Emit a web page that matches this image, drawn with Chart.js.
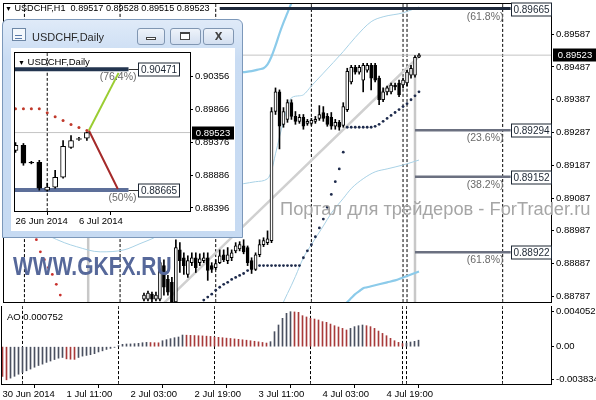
<!DOCTYPE html>
<html lang="ru">
<head>
<meta charset="UTF-8">
<title>USDCHF,H1</title>
<script src="https://cdn.jsdelivr.net/npm/chart.js@4.4.1/dist/chart.umd.min.js"></script>
<style>
  body { margin: 0; width: 596px; height: 400px; overflow: hidden; position: relative; background: #fff;
         font-family: 'Liberation Sans', Arial, sans-serif; }
  canvas { position: absolute; z-index: 1; }
  .txt { position: absolute; white-space: nowrap; font-size: 9.5px; line-height: 11px; color: #000; z-index: 2; }
  #hdr { font-size: 9.1px; }
  #wm1 { left: 280px; top: 199.5px; font-size: 18.3px; line-height: 18.3px; color: #a6a6a6; }
  #wm2 { left: 13px; top: 254px; font-size: 25px; line-height: 25px; font-weight: bold; color: #56689a;
         transform: scaleX(0.84); transform-origin: 0 0; }
  #win { position: absolute; left: 2px; top: 19px; width: 239px; height: 217px; z-index: 3;
         border: 1px solid #7c98ba; border-radius: 6px 6px 0 0;
         background: linear-gradient(#dfeaf8, #c9dcf3 40px, #c6daf2); }
  .ico { position: absolute; left: 9px; top: 8px; width: 12px; height: 11px; border: 1px solid #6d87a6; background: #f4f8fc; }
  .ico:after { content: ''; position: absolute; left: 2px; top: 6px; width: 7px; height: 2px; border-top: 1px solid #5a7aa8; border-bottom: 1px solid #5a7aa8; }
  .wtitle { position: absolute; left: 29px; top: 10.7px; font-size: 11px; line-height: 13px; color: #2a2a2a; }
  .btn { position: absolute; top: 8px; width: 26px; height: 15px; border: 1px solid #8096b2; border-radius: 3px;
         background: linear-gradient(#eef3fa, #d3dff0); }
  .client { position: absolute; left: 8px; top: 28px; width: 224px; height: 183px; background: #fff; }
  #daily { z-index: 4; }
  #dhdr { z-index: 5; }
</style>
</head>
<body>
<canvas id="main" width="596" height="306" style="left:0;top:0"></canvas>
<canvas id="ao" width="596" height="94" style="left:0;top:306px"></canvas>
<div class="txt" id="hdr" style="left:5px;top:3.4px"><span style="font-size:7px">&#9660;</span> USDCHF,H1 &nbsp;0.89517 0.89528 0.89515 0.89523</div>
<div class="txt" style="left:7px;top:310.7px">AO 0.000752</div>
<div class="txt" id="wm1">Портал для трейдеров - ForTrader.ru</div>
<div class="txt" id="wm2">WWW.GKFX.RU</div>
<div id="win">
  <div class="ico"></div>
  <div class="wtitle">USDCHF,Daily</div>
  <div class="btn" style="left:134px"><div style="position:absolute;left:8px;top:8px;width:8px;height:1px;border:1px solid #444;background:#fff"></div></div>
  <div class="btn" style="left:167px;width:29px"><div style="position:absolute;left:9px;top:3px;width:8px;height:5px;border:1px solid #444;border-top-width:2px;background:#fff"></div></div>
  <div class="btn" style="left:200px;width:29px;text-align:center;font:bold 10px/15px 'DejaVu Sans',sans-serif;color:#444">X</div>
  <div class="client"></div>
</div>
<canvas id="daily" width="224" height="182" style="left:11px;top:49px"></canvas>
<div class="txt" id="dhdr" style="left:18px;top:55.7px"><span style="font-size:7px">&#9660;</span> USDCHF,Daily</div>

<script>
// ---- H1 chart data (bar index 0 = 30 Jun 19:00) ----
const firstBar = 35;
const opens  = [0.88779,0.88779,0.88794,0.88779,0.88779,0.88881,0.88839,0.88830,0.88770,0.88929,
                0.88905,0.88854,0.88890,0.88905,0.88890,0.88896,0.88905,0.88881,0.88875,0.88890,
                0.88914,0.88896,0.88905,0.88926,0.88932,0.88941,0.88936,0.88896,0.88869,0.88914,
                0.88945,0.88951,0.88957,0.89351,0.89411,0.89312,0.89327,0.89378,0.89336,0.89321,
                0.89333,0.89315,0.89315,0.89321,0.89330,0.89348,0.89336,0.89333,0.89306,0.89318,
                0.89309,0.89357,0.89441,0.89486,0.89471,0.89447,0.89477,0.89492,0.89492,0.89453,
                0.89387,0.89411,0.89411,0.89432,0.89438,0.89432,0.89438,0.89462,0.89462,0.89517];
const highs  = [0.88797,0.88803,0.88800,0.88800,0.88896,0.88899,0.88851,0.88845,0.88960,0.88951,
                0.88920,0.88911,0.88920,0.88920,0.88917,0.88920,0.88920,0.88890,0.88899,0.88929,
                0.88929,0.88936,0.88929,0.88951,0.88954,0.88960,0.88941,0.88905,0.88920,0.88960,
                0.88966,0.88987,0.89363,0.89423,0.89417,0.89363,0.89387,0.89387,0.89351,0.89342,
                0.89342,0.89327,0.89330,0.89336,0.89369,0.89366,0.89345,0.89348,0.89327,0.89324,
                0.89378,0.89483,0.89492,0.89492,0.89492,0.89498,0.89498,0.89498,0.89498,0.89459,
                0.89423,0.89429,0.89438,0.89438,0.89447,0.89453,0.89477,0.89492,0.89522,0.89528];
const lows   = [0.88773,0.88773,0.88770,0.88773,0.88773,0.88791,0.88791,0.88764,0.88764,0.88860,
                0.88854,0.88845,0.88881,0.88860,0.88881,0.88890,0.88836,0.88860,0.88869,0.88887,
                0.88893,0.88887,0.88896,0.88920,0.88926,0.88917,0.88881,0.88857,0.88866,0.88908,
                0.88939,0.88945,0.88951,0.89342,0.89237,0.89303,0.89318,0.89327,0.89312,0.89315,
                0.89297,0.89309,0.89309,0.89315,0.89324,0.89321,0.89306,0.89297,0.89297,0.89294,
                0.89303,0.89351,0.89435,0.89465,0.89465,0.89411,0.89471,0.89417,0.89441,0.89372,
                0.89381,0.89402,0.89405,0.89417,0.89396,0.89423,0.89429,0.89453,0.89456,0.89515];
const closes = [0.88791,0.88797,0.88779,0.88791,0.88890,0.88815,0.88800,0.88770,0.88936,0.88896,
                0.88881,0.88896,0.88905,0.88875,0.88902,0.88905,0.88866,0.88869,0.88887,0.88911,
                0.88899,0.88914,0.88920,0.88941,0.88945,0.88923,0.88890,0.88869,0.88914,0.88945,
                0.88957,0.88963,0.89351,0.89411,0.89306,0.89351,0.89378,0.89336,0.89321,0.89333,
                0.89306,0.89321,0.89324,0.89327,0.89342,0.89330,0.89312,0.89306,0.89318,0.89303,
                0.89366,0.89474,0.89486,0.89471,0.89486,0.89492,0.89492,0.89453,0.89447,0.89387,
                0.89411,0.89423,0.89432,0.89426,0.89402,0.89447,0.89471,0.89483,0.89516,0.89523];
const lastClose = 0.89523;

// parabolic SAR
const sarDownIdx = [8, 9, 10, 11, 12, 13, 14];
const sarDown = [0.88960,0.88923,0.88899,0.88875,0.88854,0.88824,0.88791];
const sarUpFirst = 50;
const sarUp = [0.88776,0.88785,0.88794,0.88806,0.88815,0.88824,0.88830,0.88839,0.88845,0.88851,
               0.88857,0.88866,0.88872,0.88881,0.88881,0.88881,0.88881,0.88881,0.88881,0.88881,
               0.88881,0.88881,0.88881,0.88881,0.88881,0.88905,0.88926,0.88945,0.88969,0.88996,
               0.89023,0.89059,0.89098,0.89137,0.89176,0.89227,0.89303,0.89303,0.89303,0.89303,
               0.89303,0.89303,0.89303,0.89306,0.89312,0.89321,0.89330,0.89339,0.89348,0.89357,
               0.89366,0.89375,0.89387,0.89399,0.89411];

// band lines [bar, price]
const bandUpWide = [[58,0.89468],[60,0.89471],[62,0.89474],[64,0.89480],[65,0.89483],[66,0.89495],
                    [67,0.89519],[68,0.89552],[69,0.89589],[70,0.89622],[71,0.89652],[72,0.89682],[73,0.89712]];
const bandLoWide = [[85,0.88761],[86,0.88770],[87,0.88782],[88,0.88794],[89,0.88803],[90,0.88812],
                    [91,0.88815],[92,0.88818],[93,0.88821],[94,0.88824],[96,0.88830],[98,0.88836],
                    [100,0.88845],[102,0.88854],[104,0.88863]];
const bandUpThin = [[11,0.88972],[15,0.88951],[18,0.88939],[24,0.88923],[30,0.88929],[34,0.88948],[38,0.88969],
                    [58,0.89128],[60,0.89131],[63,0.89137],[66,0.89146],[67,0.89170],[68,0.89222],[69,0.89273],
                    [70,0.89321],[71,0.89363],[72,0.89393],[74,0.89399],[75,0.89402],[77,0.89429],[80,0.89468],
                    [85,0.89534],[88,0.89577],[92,0.89625],[95,0.89640],[100,0.89652],[104,0.89670]];
const bandLoThin = [[69,0.88740],[70,0.88770],[72,0.88821],[73,0.88848],[75,0.88905],[77,0.88945],[80,0.89002],
                    [82,0.89041],[85,0.89086],[87,0.89116],[90,0.89146],[93,0.89167],[96,0.89176],[100,0.89188],[104,0.89203]];
const trendLine = [[39.5,0.88761],[104.5,0.89525]];
const grayVerticals = [[[21,0.89000],[21,0.88700]], [[103,0.89500],[103,0.88700]]];

// fibonacci levels
const fiboLevels = [0.89665, 0.89294, 0.89152, 0.88922];
const fiboPct = ['(61.8%)', '(23.6%)', '(38.2%)', '(61.8%)'];
const fiboStart = [54, 103, 103, 103];
const fiboEnd = 127;

const separators = [5, 29, 53, 77, 100, 101, 125];
const priceTicks = [0.89587,0.89487,0.89387,0.89287,0.89187,0.89087,0.88987,0.88887,0.88787];
const timeIdx = [0, 16, 32, 48, 64, 80, 96];
const timeLabels = ['30 Jun 2014','1 Jul 11:00','2 Jul 03:00','2 Jul 19:00','3 Jul 11:00','4 Jul 03:00','4 Jul 19:00'];

// Awesome Oscillator
const aoValues = [-0.00343,-0.003834,-0.00364,-0.00343,-0.00319,-0.00299,-0.00279,-0.00259,-0.00238,-0.00218,
                  -0.00202,-0.00182,-0.00166,-0.00149,-0.00133,-0.00125,-0.00141,-0.00145,-0.00147,-0.00125,
                  -0.00109,-0.00101,-0.00093,-0.00081,-0.00061,-0.00048,-0.00032,-0.00020,-0.00008,0.00012,
                  0.00027,0.00031,0.00032,0.00035,0.00039,0.00046,0.00050,0.00048,0.00046,0.00045,
                  0.00069,0.00081,0.00093,0.00104,0.00112,0.00135,0.00133,0.00131,0.00129,0.00127,
                  0.00125,0.00122,0.00119,0.00112,0.00108,0.00104,0.00099,0.00095,0.00090,0.00085,
                  0.00080,0.00075,0.00069,0.00063,0.00056,0.00049,0.00042,0.00058,0.00174,0.00251,
                  0.00328,0.00386,0.004052,0.00402,0.00398,0.00359,0.00344,0.00328,0.00320,0.00309,
                  0.00290,0.00282,0.00262,0.00243,0.00228,0.00212,0.00193,0.00212,0.00232,0.00243,
                  0.00251,0.00243,0.00232,0.00212,0.00181,0.00154,0.00127,0.00097,0.00069,0.00050,
                  0.00035,0.00042,0.00054,0.00062,0.000752];
const aoTicks = [0.004052, 0, -0.003834];

// ---- Daily inset data (index 0 = 26 Jun 2014) ----
const dOpen  = [0.89257,0.89331,0.89078,0.89078,0.88663,0.88707,0.88856,0.89301,0.89420,0.89438];
const dHigh  = [0.89375,0.89360,0.89093,0.89108,0.88767,0.88960,0.89405,0.89479,0.89450,0.89528];
const dLow   = [0.89227,0.89034,0.89056,0.88663,0.88648,0.88692,0.88841,0.89286,0.89405,0.89405];
const dClose = [0.89331,0.89064,0.89068,0.88692,0.88707,0.88856,0.89316,0.89405,0.89435,0.89523];
const dSar   = [0.89880,0.89880,0.89880,0.89880,0.89821,0.89761,0.89702,0.89643,0.89598,0.89554];
const dLevels = [0.90471, 0.88665];
const dLevelPct = ['(76.4%)', '(50%)'];
const dGreen = [[9.25,0.89554],[13,0.90415]];
const dRed = [[9.25,0.89554],[12.9,0.88680]];
const dTicks = [0.90356, 0.89866, 0.89376, 0.88886, 0.88396];
const dTimeIdx = [0, 8];
const dTimeLabels = ['26 Jun 2014', '6 Jul 2014'];

// ---- helpers ----
const FONT = "'Liberation Sans', Arial, sans-serif";
const tickFont = { family: FONT, size: 9.5 };
const pts = arr => arr.map(p => ({ x: p[0], y: p[1] }));
const line = (data, color, width, order, extra) => Object.assign({
  type: 'line', data: data, borderColor: color, borderWidth: width, pointRadius: 0,
  cubicInterpolationMode: 'monotone', order: order }, extra || {});
const dashed = (xs, lo, hi) => xs.map(s => line([{ x: s, y: hi }, { x: s, y: lo }], '#000', 1, 9, { borderDash: [3, 2] }));

function candleSets(o, h, l, c, first, bodyW) {
  const idx = o.map((v, k) => first + k);
  return [
    { type: 'bar', order: 2, grouped: false, barThickness: 1, backgroundColor: '#000',
      data: idx.map((x, k) => ({ x: x, y: [l[k], h[k]] })) },
    { type: 'bar', order: 1, grouped: false, barThickness: bodyW, borderWidth: 1, borderSkipped: false,
      borderColor: '#000', backgroundColor: c.map((v, k) => v >= o[k] ? '#fff' : '#000'),
      data: idx.map((x, k) => ({ x: x, y: [o[k], c[k]] })) }
  ];
}

// axes keep the plot box where the picture has it: no extra label padding
const noPadY = s => { s.paddingTop = 0; s.paddingBottom = 0; };
const noPadX = s => { s.paddingLeft = 0; s.paddingRight = 0; };

function priceAxis(ticks, fmt, width) {
  return {
    type: 'linear', position: 'right', beginAtZero: false,
    afterFit: s => { s.width = width; noPadY(s); },
    afterBuildTicks: s => { s.ticks = ticks.map(v => ({ value: v })); },
    ticks: { callback: fmt, font: tickFont, color: '#000', padding: 2, autoSkip: false },
    grid: { drawOnChartArea: false, tickLength: 3, color: '#000' },
    border: { color: '#000' }
  };
}

function timeAxis(idx, labels, min, max, height) {
  return {
    type: 'linear', position: 'bottom', min: min, max: max, offset: false,
    afterFit: s => { s.height = height; noPadX(s); },
    afterBuildTicks: s => { s.ticks = idx.map(v => ({ value: v })); },
    ticks: { autoSkip: false, maxRotation: 0, align: 'start', padding: 1, font: tickFont, color: '#000',
             callback: v => labels[idx.indexOf(v)] },
    grid: { drawOnChartArea: false, tickLength: 4, color: '#000' },
    border: { color: '#000' }
  };
}

function tag(ctx, x, y, w, text, fill, stroke, color) {
  ctx.fillStyle = fill; ctx.fillRect(x, y - 6.5, w, 13);
  if (stroke) { ctx.strokeStyle = stroke; ctx.strokeRect(x, y - 6.5, w, 13); }
  ctx.fillStyle = color; ctx.textAlign = 'center'; ctx.textBaseline = 'middle';
  ctx.fillText(text, x + w / 2, y + 0.5);
}

const frame = {
  id: 'frame',
  afterDraw(chart) {
    const { ctx, chartArea: a } = chart;
    ctx.save();
    ctx.strokeStyle = '#000'; ctx.lineWidth = 1;
    ctx.strokeRect(a.left - 0.5, a.top - 0.5, a.right - a.left + 1, a.bottom - a.top + 1);
    ctx.restore();
  }
};

const baseOptions = pad => ({
  responsive: false, animation: false, events: [],
  layout: { padding: pad },
  plugins: { legend: { display: false }, tooltip: { enabled: false } }
});

// ---- main H1 chart ----
const mainLabels = {
  id: 'mainLabels',
  afterDraw(chart) {
    const { ctx, chartArea: a, scales: { x, y } } = chart;
    ctx.save();
    ctx.lineWidth = 1;
    const bx = Math.round(x.getPixelForValue(fiboEnd)) + 0.5;
    fiboLevels.forEach((lv, k) => {
      const py = Math.round(y.getPixelForValue(lv)) + 0.5;
      ctx.font = '10px ' + FONT;
      tag(ctx, bx, py, 40, lv.toFixed(5), '#fff', '#1c2633', '#1c2633');
      ctx.font = '10.5px ' + FONT;
      ctx.fillStyle = '#6a6a6a'; ctx.textAlign = 'right';
      ctx.fillText(fiboPct[k], bx - 8, py + 8);
    });
    const cy = Math.round(y.getPixelForValue(lastClose));
    ctx.font = '9.5px ' + FONT;
    tag(ctx, a.right + 2, cy, 44, lastClose.toFixed(5), '#000', null, '#fff');
    ctx.restore();
  }
};

const yMin = 0.88770, yMax = 0.89679;
new Chart(document.getElementById('main'), {
  type: 'bar',
  data: {
    datasets: [
      ...candleSets(opens, highs, lows, closes, firstBar, 3),
      line(sarDownIdx.map((x, k) => ({ x: x, y: sarDown[k] })), '#c8302c', 0, 3,
           { showLine: false, pointRadius: 1.4, pointBorderWidth: 0, pointBackgroundColor: '#c8302c' }),
      line(sarUp.map((v, k) => ({ x: sarUpFirst + k, y: v })), '#1e2b4c', 0, 3,
           { showLine: false, pointRadius: 1.4, pointBorderWidth: 0, pointBackgroundColor: '#1e2b4c' }),
      ...fiboLevels.map((lv, k) => line([{ x: fiboStart[k], y: lv }, { x: fiboEnd, y: lv }],
           k === 0 ? '#1f2a3c' : '#6b7080', k === 0 ? 3 : 2.5, 5)),
      line(pts(bandUpWide), '#8ccbea', 2.2, 7),
      line(pts(bandLoWide), '#8ccbea', 2.2, 7),
      line(pts(bandUpThin), '#a9d2e6', 1, 7),
      line(pts(bandLoThin), '#a9d2e6', 1, 7),
      line(pts(trendLine), '#d0d0d0', 2.5, 8),
      ...grayVerticals.map(v => line(pts(v), '#c8c8c8', 2.5, 8)),
      line([{ x: -0.125, y: lastClose }, { x: 137.125, y: lastClose }], '#c4c4c4', 1, 8),
      ...dashed(separators, yMin, yMax)
    ]
  },
  options: Object.assign(baseOptions({ left: 2, top: 3, right: 0, bottom: 1 }), {
    scales: {
      x: { type: 'linear', min: -0.125, max: 137.125, offset: false, display: false },
      y: Object.assign(priceAxis(priceTicks, v => v.toFixed(5), 45), { min: yMin, max: yMax })
    }
  }),
  plugins: [frame, mainLabels]
});

// ---- AO panel ----
new Chart(document.getElementById('ao'), {
  type: 'bar',
  data: {
    datasets: [
      { type: 'bar', order: 1, grouped: false, barThickness: 1,
        backgroundColor: aoValues.map((v, i) => i === 0 || v < aoValues[i - 1] ? '#a83a3a' : '#4a5060'),
        data: aoValues.map((v, i) => ({ x: i, y: v })) },
      ...dashed(separators, -0.00432, 0.00471)
    ]
  },
  options: Object.assign(baseOptions({ left: 2, top: 0, right: 0, bottom: 0 }), {
    scales: {
      x: timeAxis(timeIdx, timeLabels, -0.125, 137.125, 16),
      y: Object.assign(priceAxis(aoTicks, v => v === 0 ? '0.00' : String(v), 45), { min: -0.00432, max: 0.00471 })
    }
  }),
  plugins: [frame]
});

// ---- Daily inset ----
const dBoxAt = 15.5, dLineEnd = 14.25;
const dailyLabels = {
  id: 'dailyLabels',
  afterDraw(chart) {
    const { ctx, chartArea: a, scales: { x, y } } = chart;
    ctx.save();
    ctx.lineWidth = 1;
    const bx = Math.round(x.getPixelForValue(dBoxAt)) + 0.5;
    const ex = x.getPixelForValue(dLineEnd);
    dLevels.forEach((lv, k) => {
      const py = Math.round(y.getPixelForValue(lv)) + 0.5;
      ctx.strokeStyle = '#333'; ctx.beginPath(); ctx.moveTo(ex, py); ctx.lineTo(bx, py); ctx.stroke();
      ctx.font = '10px ' + FONT;
      tag(ctx, bx, py, 41, lv.toFixed(5), '#fff', '#1c2633', '#1c2633');
      ctx.font = '10.5px ' + FONT;
      ctx.fillStyle = '#6a6a6a'; ctx.textAlign = 'right';
      ctx.fillText(dLevelPct[k], bx - 2, py + 8);
    });
    const cy = Math.round(y.getPixelForValue(lastClose));
    ctx.font = '9.5px ' + FONT;
    tag(ctx, a.right + 2, cy, 42, lastClose.toFixed(5), '#000', null, '#fff');
    ctx.restore();
  }
};

const dMin = 0.88351, dMax = 0.90712;
new Chart(document.getElementById('daily'), {
  type: 'bar',
  data: {
    datasets: [
      ...candleSets(dOpen, dHigh, dLow, dClose, 0, 5),
      line(dSar.map((v, k) => ({ x: k, y: v })), '#c0392b', 0, 3,
           { showLine: false, pointRadius: 1.5, pointBorderWidth: 0, pointBackgroundColor: '#c0392b' }),
      line(pts(dGreen), '#9acd32', 2, 4),
      line(pts(dRed), '#a52a2a', 2, 4),
      line([{ x: -0.0625, y: dLevels[0] }, { x: dLineEnd, y: dLevels[0] }], '#23354f', 4, 5),
      line([{ x: -0.0625, y: dLevels[1] }, { x: dLineEnd, y: dLevels[1] }], '#5d6f99', 4, 5),
      line([{ x: -0.0625, y: lastClose }, { x: 22, y: lastClose }], '#c4c4c4', 1, 8),
      ...dashed([4], dMin, dMax)
    ]
  },
  options: Object.assign(baseOptions({ left: 2, top: 3, right: 0, bottom: 0 }), {
    scales: {
      x: timeAxis(dTimeIdx, dTimeLabels, -0.0625, 22.0, 20),
      y: Object.assign(priceAxis(dTicks, v => v.toFixed(5), 45), { min: dMin, max: dMax })
    }
  }),
  plugins: [frame, dailyLabels]
});
</script>
</body>
</html>
